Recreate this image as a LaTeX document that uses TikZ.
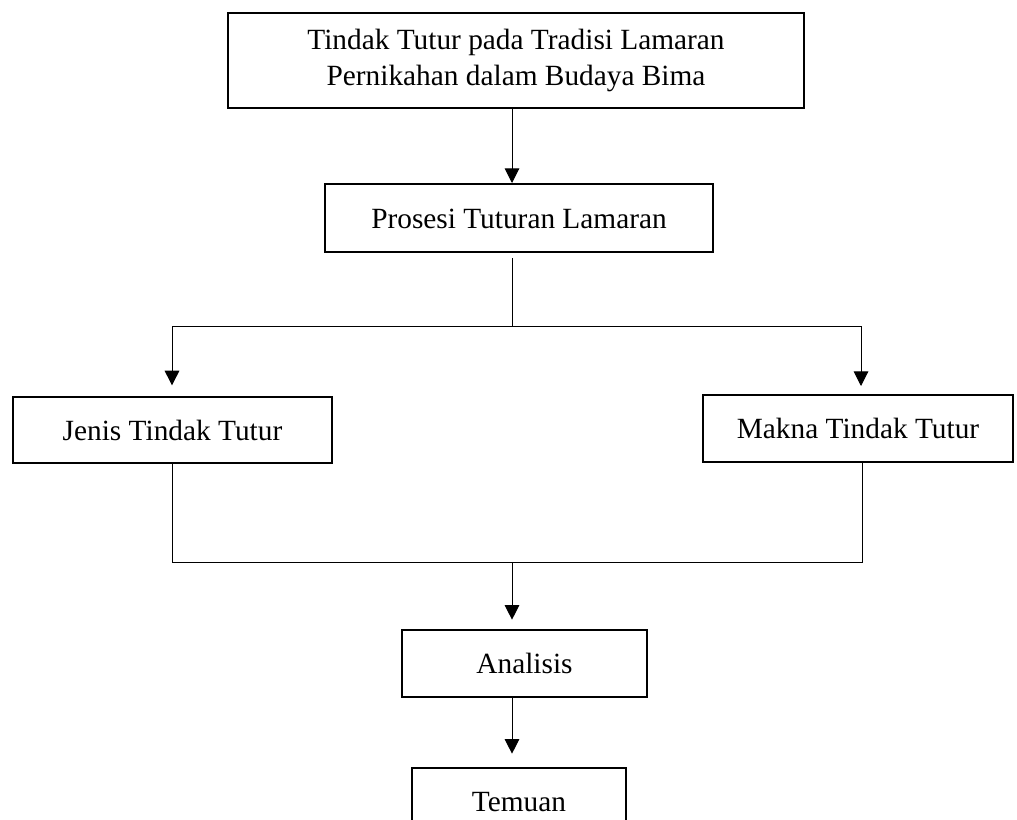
\documentclass[tikz,border=0pt]{standalone}
\usepackage{fontspec}
\setmainfont{Liberation Serif}
\usetikzlibrary{arrows.meta}
\begin{document}
\begin{tikzpicture}[x=0.75pt,y=-0.75pt,
  boxbase/.style={draw, line width=1.5pt, rectangle, inner sep=0pt, font=\fontsize{22}{26.5}\selectfont},
  box/.style={boxbase, text height=15.5pt, text depth=0pt},
  conn/.style={line width=0.75pt},
  arr/.style={conn, -{Triangle[length=11pt,width=11pt]}}]
\useasboundingbox (0,0) rectangle (1017,819);
\clip (0,0) rectangle (1017,819);

\node[boxbase, minimum width=432pt, minimum height=71.25pt, align=center] (top) at (516,60.5)
  {Tindak Tutur pada Tradisi Lamaran\\Pernikahan dalam Budaya Bima};
\node[box, minimum width=291pt, minimum height=51pt] (pros) at (519,218) {Prosesi Tuturan Lamaran};
\node[box, minimum width=239.25pt, minimum height=49.5pt] (jenis) at (172.5,430) {Jenis Tindak Tutur};
\node[box, minimum width=232.5pt, minimum height=50.25pt] (makna) at (858,428.5) {Makna Tindak Tutur};
\node[box, minimum width=183.75pt, minimum height=50.25pt] (anal) at (524.5,663.5) {Analisis};
\node[box, minimum width=160.5pt, minimum height=50.25pt] (tem) at (519,801.5) {Temuan};

\coordinate (j1) at (512,326);
\coordinate (jl) at (172,326);
\coordinate (jr) at (861,326);
\coordinate (k1) at (512,562);
\coordinate (kl) at (172,562);
\coordinate (kr) at (862,562);

\draw[arr] (top.south -| j1) -- (pros.north -| j1);
\draw[conn, shorten <=3.75pt] (pros.south -| j1) -- (j1);
\draw[conn] (jl) -- (jr);
\draw[arr, shorten >=8pt] (jl) -- (jenis.north -| jl);
\draw[arr, shorten >=6pt] (jr) -- (makna.north -| jr);
\draw[conn] (jenis.south -| kl) -- (kl) -- (kr) -- (makna.south -| kr);
\draw[arr, shorten >=7pt] (k1) -- (anal.north -| k1);
\draw[arr, shorten >=10pt] (anal.south -| k1) -- (tem.north -| k1);
\end{tikzpicture}
\end{document}
